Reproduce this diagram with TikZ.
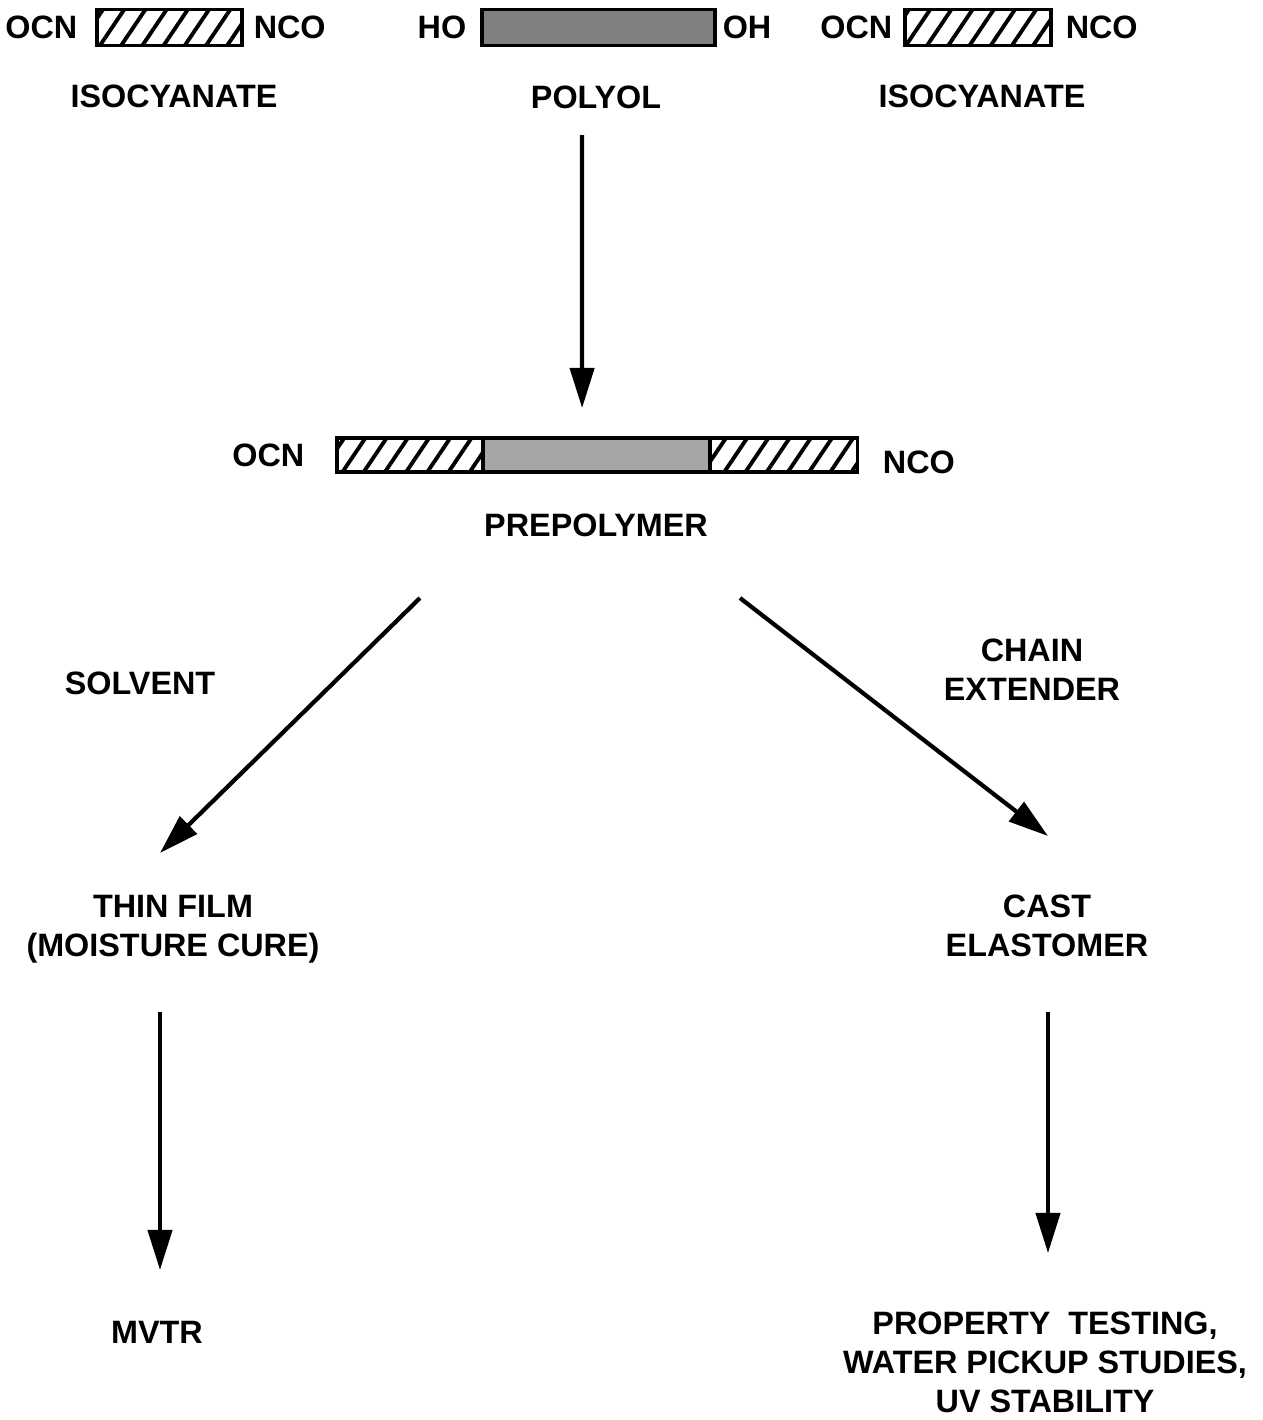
\documentclass[tikz,border=0pt]{standalone}
\usepackage{fontspec}
\setmainfont{Liberation Sans}
\usetikzlibrary{arrows.meta,positioning,patterns.meta}

\begin{document}
\begin{tikzpicture}[
    x=0.01cm, y=-0.01cm,
    >={Triangle[length=0.4cm,width=0.24cm]},
    lbl/.style={font=\fontsize{9.2}{11.1}\selectfont\bfseries, inner sep=0pt, align=center},
    bar/.style={rectangle, draw, line width=1pt, minimum height=0.36cm, inner sep=0pt, outer sep=0pt},
    hatched/.style={bar, pattern={Lines[angle=56,distance=5pt,line width=1.1pt]}},
    stipple/.style={bar, fill=black!35},
    flow/.style={->, line width=1.2pt},
  ]
  \useasboundingbox (0,0) rectangle (1263,1420);

  % Starting materials
  \node[hatched, minimum width=1.45cm] (isoL) at (169.5,27.5) {};
  \node[lbl, left=0.19cm of isoL]  (ocnL) {OCN};
  \node[lbl, right=0.11cm of isoL] (ncoL) {NCO};
  \node[stipple, fill=black!50, minimum width=2.33cm] (polyol) at (598.5,27.5) {};
  \node[lbl, left=0.15cm of polyol]  (ho) {HO};
  \node[lbl, right=0.07cm of polyol] (oh) {OH};
  \node[hatched, minimum width=1.46cm] (isoR) at (978,27.5) {};
  \node[lbl, left=0.12cm of isoR]  (ocnR) {OCN};
  \node[lbl, right=0.14cm of isoR] (ncoR) {NCO};

  \node[lbl] (isoLlab) at (174,96) {ISOCYANATE};
  \node[lbl] (polylab) at (596,97) {POLYOL};
  \node[lbl] (isoRlab) at (982,96) {ISOCYANATE};

  % Prepolymer
  \node[hatched, minimum width=1.46cm, minimum height=0.34cm] (preL) at (410,455) {};
  \node[stipple, minimum width=2.27cm, minimum height=0.34cm, right=0pt of preL] (preM) {};
  \node[hatched, minimum width=1.47cm, minimum height=0.34cm, right=0pt of preM] (preR) {};
  \node[lbl, left=0.32cm of preL] (ocnP) {OCN};
  \node[lbl, right=0.25cm of preR, yshift=-0.07cm] (ncoP) {NCO};
  \node[lbl] (prepolab) at (596,525) {PREPOLYMER};

  % Products
  \node[lbl] (solvent)  at (140,683)  {SOLVENT};
  \node[lbl] (chain)    at (1032,670) {CHAIN\\EXTENDER};
  \node[lbl] (thinfilm) at (173,929)  {THIN FILM\\(MOISTURE CURE)};
  \node[lbl] (cast)     at (1047,926) {CAST\\ELASTOMER};
  \node[lbl] (mvtr)     at (157,1332) {MVTR};
  \node[lbl] (props)    at (1045,1362) {PROPERTY~~TESTING,\\WATER PICKUP STUDIES,\\UV STABILITY};

  % Edges
  \draw[flow] ([shift={(-14,38)}]polylab.center) -- ([shift={(-14.5,-47)}]preM.center);
  \draw[flow] ([shift={(-176,73)}]prepolab.center) -- ([shift={(-13,-76)}]thinfilm.center);
  \draw[flow] ([shift={(144,73)}]prepolab.center) -- ([shift={(1,-90)}]cast.center);
  \draw[flow] ([shift={(-13,83)}]thinfilm.center) -- ([shift={(3,-62)}]mvtr.center);
  \draw[flow] ([shift={(1,86)}]cast.center) -- ([shift={(3,-109)}]props.center);

\end{tikzpicture}
\end{document}
